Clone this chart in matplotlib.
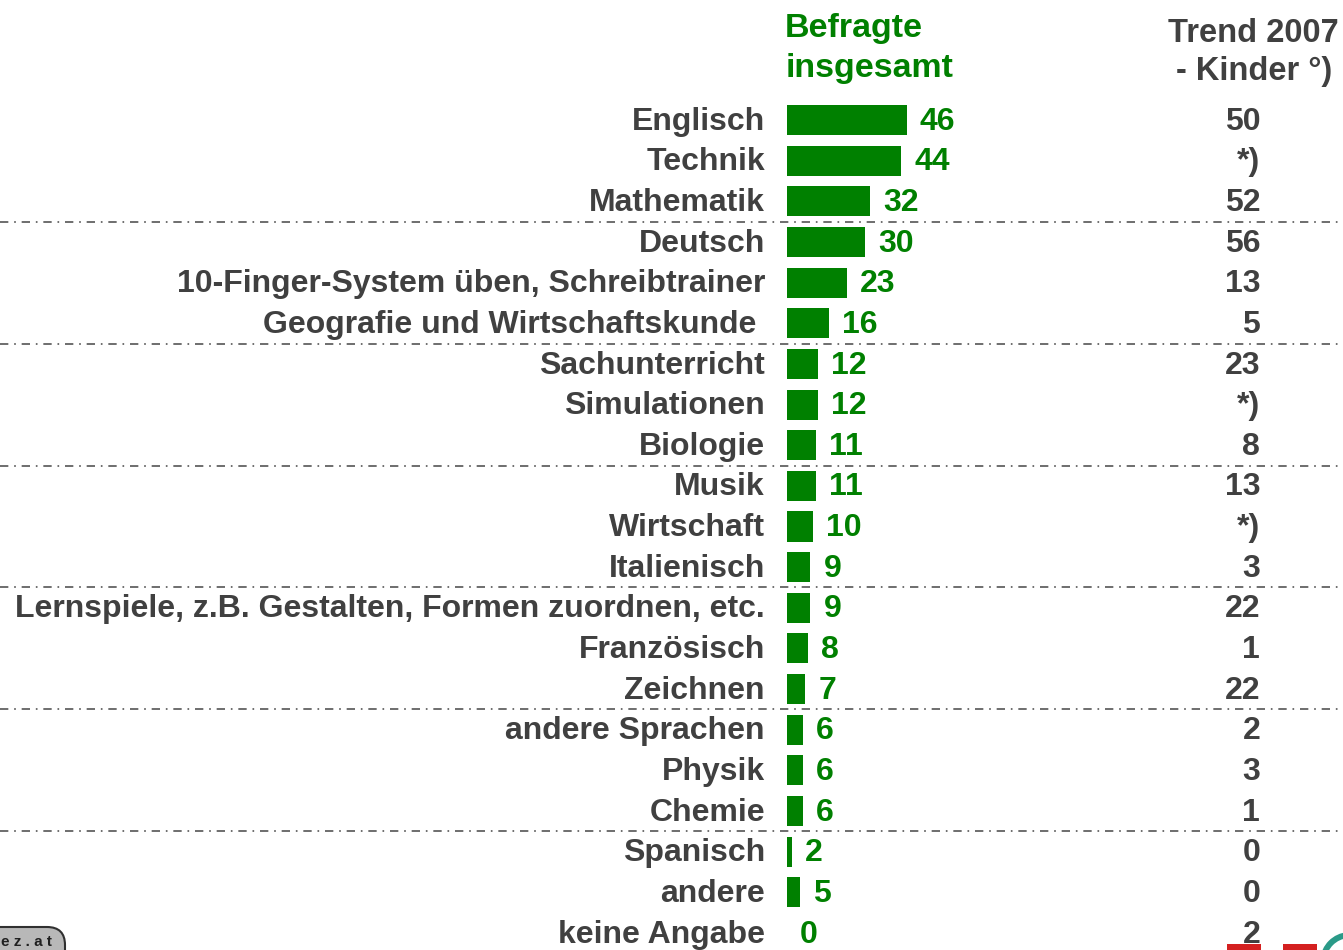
import matplotlib.pyplot as plt
from matplotlib.patches import FancyBboxPatch, Rectangle, Wedge

plt.rcParams['font.family'] = ['Liberation Sans', 'DejaVu Sans']

subjects = ['Englisch', 'Technik', 'Mathematik', 'Deutsch',
            '10-Finger-System üben, Schreibtrainer',
            'Geografie und Wirtschaftskunde ', 'Sachunterricht', 'Simulationen',
            'Biologie', 'Musik', 'Wirtschaft', 'Italienisch',
            'Lernspiele, z.B. Gestalten, Formen zuordnen, etc.', 'Französisch',
            'Zeichnen', 'andere Sprachen', 'Physik', 'Chemie', 'Spanisch',
            'andere', 'keine Angabe']
befragte = [46, 44, 32, 30, 23, 16, 12, 12, 11, 11, 10, 9, 9, 8, 7, 6, 6, 6, 2, 5, 0]
trend_2007 = ['50', '*)', '52', '56', '13', '5', '23', '*)', '8', '13', '*)', '3',
              '22', '1', '22', '2', '3', '1', '0', '0', '2']

GREEN = '#008000'
GREY = '#404040'

fig = plt.figure(figsize=(13.43, 9.5), dpi=100)
ax = fig.add_axes([0, 0, 1, 1])
# x in percent (0 at the bar base), y in rows
px = 2.6
ax.set_xlim(-787 / px, (1343 - 787) / px)
ax.set_ylim((950 - 120) / 40.65, -120 / 40.65)
ax.axis('off')

rows = list(range(len(subjects)))
ax.barh(rows, befragte, height=0.74, left=0, color=GREEN)

fs = 23
for i, (name, val, tr) in enumerate(zip(subjects, befragte, trend_2007)):
    ax.text(-8.5, i + 0.04, name, ha='right', va='center', fontsize=fs, color=GREY,
            fontweight='bold')
    ax.text(val + 5, i + 0.04, str(val), ha='left', va='center', fontsize=fs, color=GREEN,
            fontweight='bold')
    ax.text(182, i + 0.04, tr, ha='right', va='center', fontsize=fs, color=GREY,
            fontweight='bold')

# separator lines every three rows
for k in range(3, len(subjects), 3):
    if k < len(subjects) - 1:
        ax.axhline(k - 0.5, color='#555555', lw=1.2, linestyle=(0, (5, 3.5, 1, 3.5)))

ax.text(-0.7, -1.75, 'Befragte\ninsgesamt', ha='left', va='center', fontsize=24.5,
        color=GREEN, linespacing=1.38, fontweight='bold')
ax.text(179.5, -1.66, 'Trend 2007\n- Kinder °)', ha='center', va='center', fontsize=23.5,
        color=GREY, linespacing=1.3, fontweight='bold')

# partial logos at the bottom corners
fig.patches.append(FancyBboxPatch((-40, -40), 105, 63, boxstyle='round,pad=0,rounding_size=18',
                                  transform=None, facecolor='#b8b8b8', edgecolor='#303030',
                                  lw=1.5, figure=fig))
fig.text(1, 8, 'e z . a t', transform=None, fontsize=11, color='#202020', ha='left',
         va='center', fontweight='bold')
fig.patches.append(Rectangle((1227, 0), 34, 6, transform=None, facecolor='#d42020',
                             edgecolor='none', figure=fig))
fig.patches.append(Rectangle((1283, 0), 34, 6, transform=None, facecolor='#d42020',
                             edgecolor='none', figure=fig))
fig.patches.append(Wedge((1350, -12), 30, 95, 175, width=6, transform=None,
                         facecolor='#2a9a88', edgecolor='none', figure=fig))

fig.savefig('out.png', dpi=100)
